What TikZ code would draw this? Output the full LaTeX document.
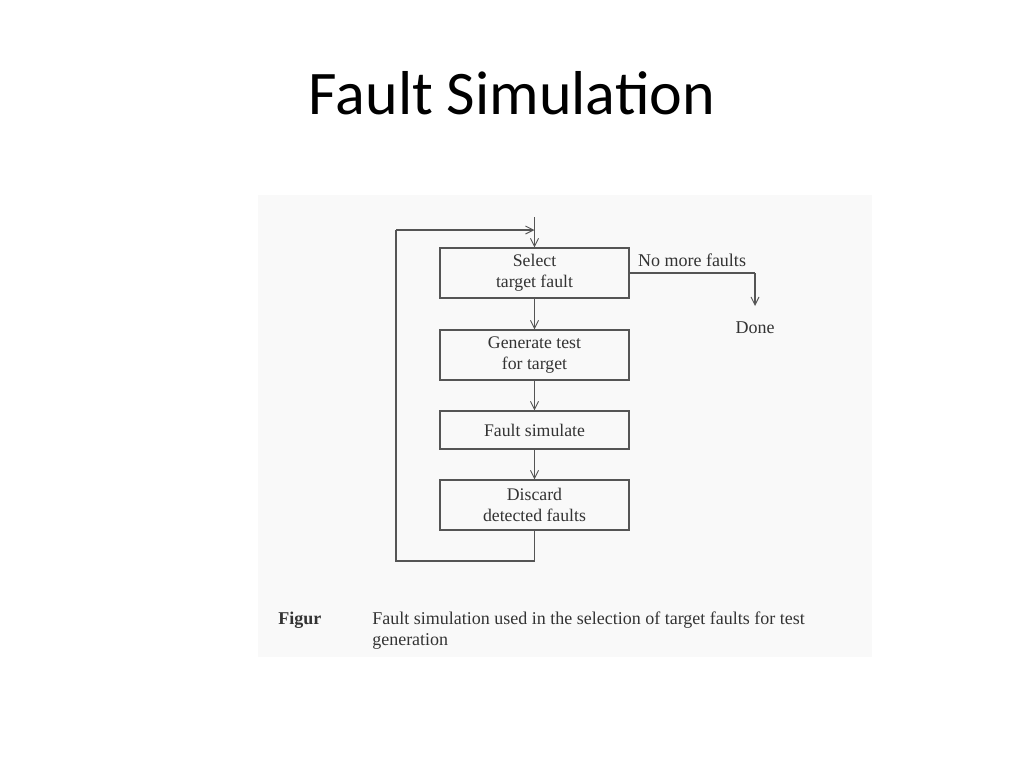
\documentclass[tikz,border=0pt]{standalone}
\usepackage{fontspec}
\setmainfont{Liberation Serif}
\newfontfamily\titlefont{Carlito}
\usetikzlibrary{arrows.meta}
\definecolor{ink}{HTML}{555555}
\definecolor{scan}{HTML}{F9F9F9}
\begin{document}
\begin{tikzpicture}[x=0.75pt,y=-0.75pt,
  flow/.style={draw=ink, line width=0.9pt, minimum width=141.75pt, align=center, inner sep=0pt, font=\fontsize{13.3}{15.5}\selectfont, text=black!80},
  conn/.style={draw=ink, line width=0.9pt},
  arr/.style={conn, -{Straight Barb[length=6pt,width=6pt,line width=0.7pt]}},
  lbl/.style={font=\fontsize{13.5}{15}\selectfont, text=black!80, inner sep=0pt},
  caplbl/.style={font=\fontsize{13.5}{15}\selectfont, text=black!80, inner sep=0pt}]
\useasboundingbox (0,0) rectangle (1024,768);
\fill[white] (0,0) rectangle (1024,768);
\fill[scan] (258,195) rectangle (872,657);
\node[font=\titlefont\fontsize{46.5}{50}\selectfont, anchor=base] (title) at (512,114) {Fault Simulation};

\node[flow, minimum height=37.5pt] (sel) at (534.5,273) {Select\\target fault};
\node[flow, minimum height=37.5pt] (gen) at (534.5,355) {Generate test\\for target};
\node[flow, minimum height=28.5pt] (sim) at (534.5,430) {Fault simulate};
\node[flow, minimum height=37.5pt] (dis) at (534.5,505) {Discard\\detected faults};

\coordinate (top) at (534.5,217);
\coordinate (fbend) at (534.5,230);
\coordinate (b1) at (534.5,561);
\coordinate (b2) at (396,561);
\coordinate (b3) at (396,230);
\coordinate (nm) at (755,273);
\coordinate (nmend) at (755,306);

\draw[arr] (top) -- (sel.north);
\draw[arr] (sel) -- (gen);
\draw[arr] (gen) -- (sim);
\draw[arr] (sim) -- (dis);
\draw[conn] (dis.south) -- (b1) -- (b2) -- (b3);
\draw[arr] (b3) -- (fbend);
\draw[conn] (sel.east |- nm) -- (nm);
\draw[arr] (nm) -- (nmend);

\node[lbl, anchor=base] (nomore) at (692,266) {No more faults};
\node[lbl, anchor=base] (done) at (755,333) {Done};

\node[caplbl, anchor=base west, font=\bfseries\fontsize{13.5}{15}\selectfont] (fig) at (278,624) {Figur};
\node[caplbl, anchor=base west] (cap1) at (372,624) {Fault simulation used in the selection of target faults for test};
\node[caplbl, anchor=base west] (cap2) at (372,645) {generation};
\end{tikzpicture}
\end{document}
